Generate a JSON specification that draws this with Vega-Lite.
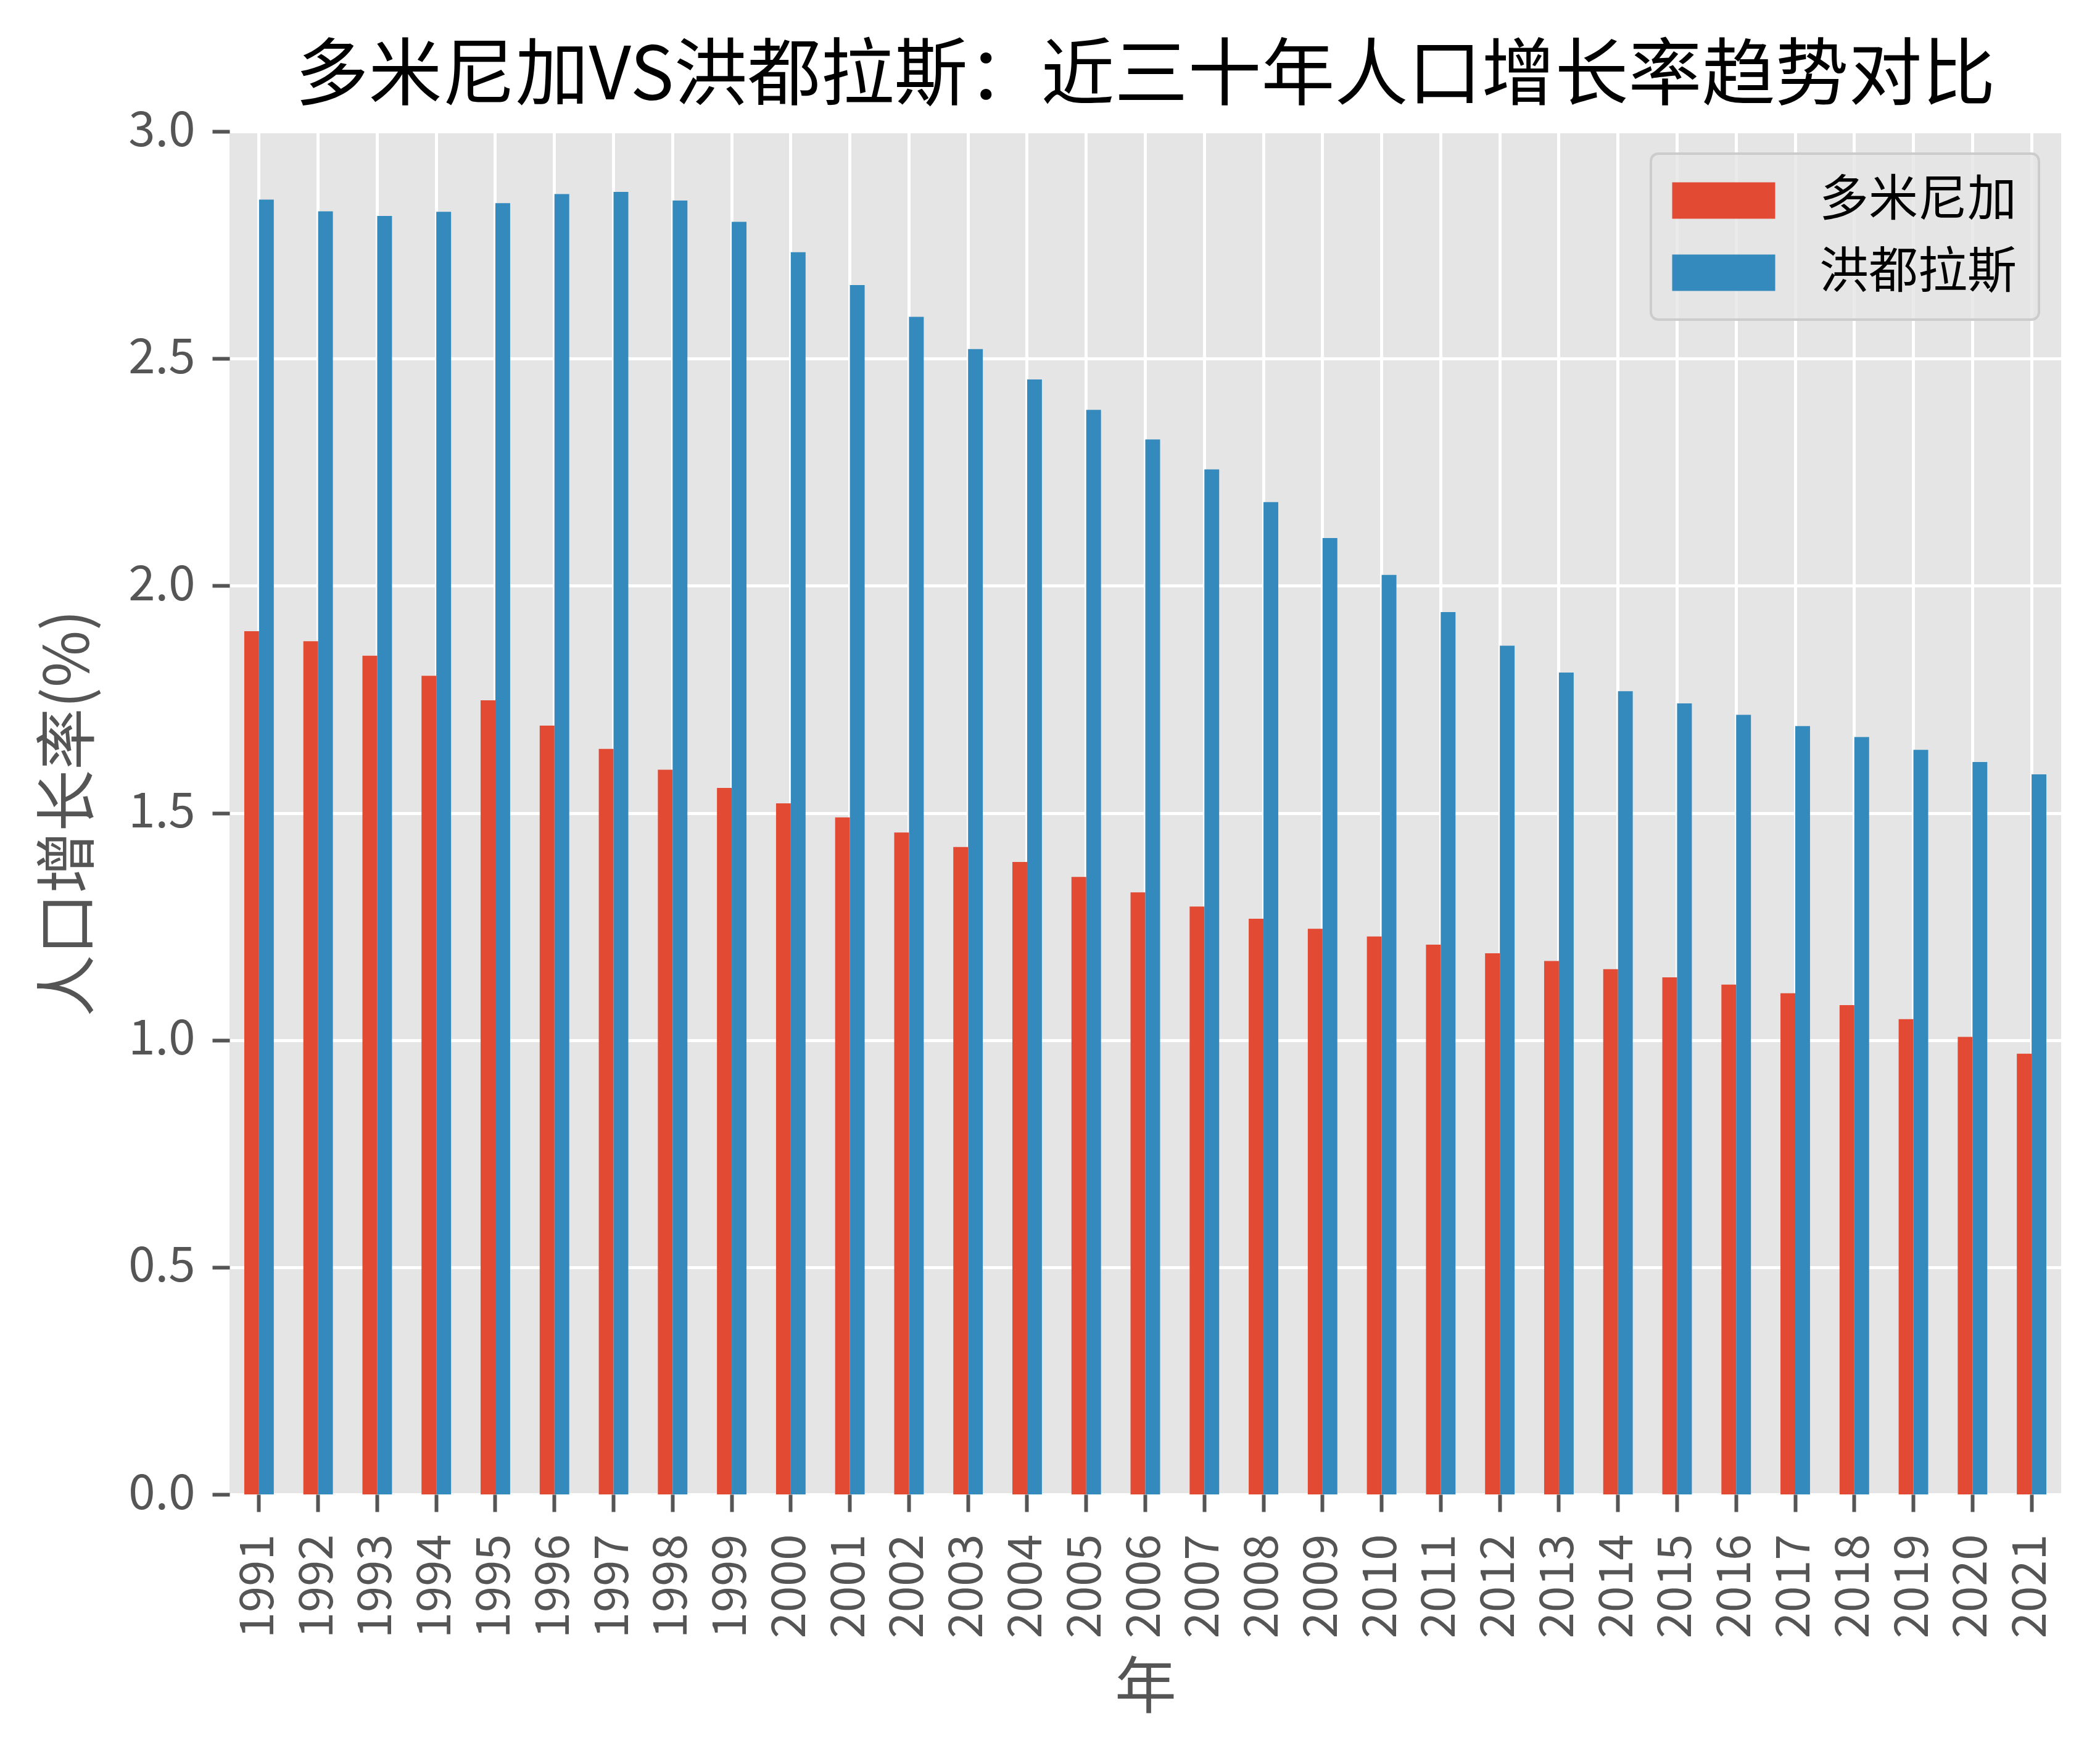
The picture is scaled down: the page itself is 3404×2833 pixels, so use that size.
{
  "$schema": "https://vega.github.io/schema/vega-lite/v6.json",
  "width": 2969,
  "height": 2209,
  "autosize": {"type": "none"},
  "padding": {"left": 372, "top": 213, "right": 63, "bottom": 411},
  "background": "white",
  "title": {
    "text": "多米尼加VS洪都拉斯：近三十年人口增长率趋势对比",
    "font": "Noto Sans CJK SC",
    "fontSize": 119,
    "fontWeight": "normal",
    "color": "black",
    "anchor": "middle",
    "baseline": "alphabetic",
    "offset": -106
  },
  "data": {
    "values": [
      {"year": 1991, "country": "多米尼加", "rate": 1.900}, {"year": 1991, "country": "洪都拉斯", "rate": 2.850},
      {"year": 1992, "country": "多米尼加", "rate": 1.878}, {"year": 1992, "country": "洪都拉斯", "rate": 2.824},
      {"year": 1993, "country": "多米尼加", "rate": 1.846}, {"year": 1993, "country": "洪都拉斯", "rate": 2.814},
      {"year": 1994, "country": "多米尼加", "rate": 1.802}, {"year": 1994, "country": "洪都拉斯", "rate": 2.823},
      {"year": 1995, "country": "多米尼加", "rate": 1.748}, {"year": 1995, "country": "洪都拉斯", "rate": 2.842},
      {"year": 1996, "country": "多米尼加", "rate": 1.692}, {"year": 1996, "country": "洪都拉斯", "rate": 2.862},
      {"year": 1997, "country": "多米尼加", "rate": 1.641}, {"year": 1997, "country": "洪都拉斯", "rate": 2.867},
      {"year": 1998, "country": "多米尼加", "rate": 1.595}, {"year": 1998, "country": "洪都拉斯", "rate": 2.848},
      {"year": 1999, "country": "多米尼加", "rate": 1.555}, {"year": 1999, "country": "洪都拉斯", "rate": 2.801},
      {"year": 2000, "country": "多米尼加", "rate": 1.521}, {"year": 2000, "country": "洪都拉斯", "rate": 2.734},
      {"year": 2001, "country": "多米尼加", "rate": 1.490}, {"year": 2001, "country": "洪都拉斯", "rate": 2.662},
      {"year": 2002, "country": "多米尼加", "rate": 1.457}, {"year": 2002, "country": "洪都拉斯", "rate": 2.592},
      {"year": 2003, "country": "多米尼加", "rate": 1.425}, {"year": 2003, "country": "洪都拉斯", "rate": 2.521},
      {"year": 2004, "country": "多米尼加", "rate": 1.392}, {"year": 2004, "country": "洪都拉斯", "rate": 2.454},
      {"year": 2005, "country": "多米尼加", "rate": 1.359}, {"year": 2005, "country": "洪都拉斯", "rate": 2.387},
      {"year": 2006, "country": "多米尼加", "rate": 1.325}, {"year": 2006, "country": "洪都拉斯", "rate": 2.322},
      {"year": 2007, "country": "多米尼加", "rate": 1.294}, {"year": 2007, "country": "洪都拉斯", "rate": 2.256},
      {"year": 2008, "country": "多米尼加", "rate": 1.267}, {"year": 2008, "country": "洪都拉斯", "rate": 2.184},
      {"year": 2009, "country": "多米尼加", "rate": 1.245}, {"year": 2009, "country": "洪都拉斯", "rate": 2.105},
      {"year": 2010, "country": "多米尼加", "rate": 1.228}, {"year": 2010, "country": "洪都拉斯", "rate": 2.024},
      {"year": 2011, "country": "多米尼加", "rate": 1.210}, {"year": 2011, "country": "洪都拉斯", "rate": 1.942},
      {"year": 2012, "country": "多米尼加", "rate": 1.191}, {"year": 2012, "country": "洪都拉斯", "rate": 1.868},
      {"year": 2013, "country": "多米尼加", "rate": 1.174}, {"year": 2013, "country": "洪都拉斯", "rate": 1.809},
      {"year": 2014, "country": "多米尼加", "rate": 1.156}, {"year": 2014, "country": "洪都拉斯", "rate": 1.768},
      {"year": 2015, "country": "多米尼加", "rate": 1.138}, {"year": 2015, "country": "洪都拉斯", "rate": 1.741},
      {"year": 2016, "country": "多米尼加", "rate": 1.122}, {"year": 2016, "country": "洪都拉斯", "rate": 1.716},
      {"year": 2017, "country": "多米尼加", "rate": 1.103}, {"year": 2017, "country": "洪都拉斯", "rate": 1.691},
      {"year": 2018, "country": "多米尼加", "rate": 1.077}, {"year": 2018, "country": "洪都拉斯", "rate": 1.667},
      {"year": 2019, "country": "多米尼加", "rate": 1.046}, {"year": 2019, "country": "洪都拉斯", "rate": 1.639},
      {"year": 2020, "country": "多米尼加", "rate": 1.007}, {"year": 2020, "country": "洪都拉斯", "rate": 1.612},
      {"year": 2021, "country": "多米尼加", "rate": 0.970}, {"year": 2021, "country": "洪都拉斯", "rate": 1.585}
    ]
  },
  "mark": {"type": "bar"},
  "encoding": {
    "x": {
      "field": "year",
      "type": "nominal",
      "scale": {"paddingInner": 0.5, "paddingOuter": 0.25},
      "axis": {
        "title": "年",
        "titleFont": "Noto Sans CJK SC",
        "titleFontSize": 100,
        "titleFontWeight": "normal",
        "titleColor": "#555555",
        "titlePadding": 66,
        "labelAngle": 270,
        "labelFont": "Noto Sans CJK SC",
        "labelFontSize": 76,
        "labelColor": "#555555",
        "labelPadding": 36,
        "tickColor": "#555555",
        "tickSize": 28,
        "tickWidth": 6,
        "domain": false,
        "grid": true,
        "bandPosition": 0.5,
        "gridColor": "#FFFFFF",
        "gridWidth": 5
      }
    },
    "xOffset": {
      "field": "country",
      "type": "nominal",
      "sort": ["多米尼加", "洪都拉斯"],
      "scale": {"paddingInner": 0, "paddingOuter": 0}
    },
    "y": {
      "field": "rate",
      "type": "quantitative",
      "scale": {"domain": [0, 3], "nice": false},
      "axis": {
        "title": "人口增长率(%)",
        "titleFont": "Noto Sans CJK SC",
        "titleFontSize": 100,
        "titleFontWeight": "normal",
        "titleColor": "#555555",
        "titlePadding": 43,
        "values": [0, 0.5, 1, 1.5, 2, 2.5, 3],
        "format": ".1f",
        "labelFont": "Noto Sans CJK SC",
        "labelFontSize": 78,
        "labelColor": "#555555",
        "labelPadding": 28,
        "tickColor": "#555555",
        "tickSize": 28,
        "tickWidth": 6,
        "domain": false,
        "grid": true,
        "gridColor": "#FFFFFF",
        "gridWidth": 5
      }
    },
    "color": {
      "field": "country",
      "type": "nominal",
      "sort": ["多米尼加", "洪都拉斯"],
      "scale": {"domain": ["多米尼加", "洪都拉斯"], "range": ["#E24A33", "#348ABD"]},
      "legend": {
        "title": null,
        "orient": "top-right",
        "offset": 36,
        "labelFont": "Noto Sans CJK SC",
        "labelFontSize": 80,
        "labelColor": "#000000",
        "labelLimit": 1000,
        "symbolType": "M-2.783,-0.983H2.783V0.983H-2.783Z",
        "symbolSize": 3600,
        "symbolStrokeWidth": 0,
        "symbolOpacity": 1,
        "symbolOffset": 42,
        "labelOffset": 115,
        "rowPadding": 37,
        "padding": 36,
        "fillColor": "rgba(229,229,229,0.8)",
        "strokeColor": "#CCCCCC",
        "cornerRadius": 12,
        "encode": {"legend": {"update": {"strokeWidth": {"value": 4}}}}
      }
    }
  },
  "config": {
    "view": {"fill": "#E5E5E5", "stroke": null}
  }
}
